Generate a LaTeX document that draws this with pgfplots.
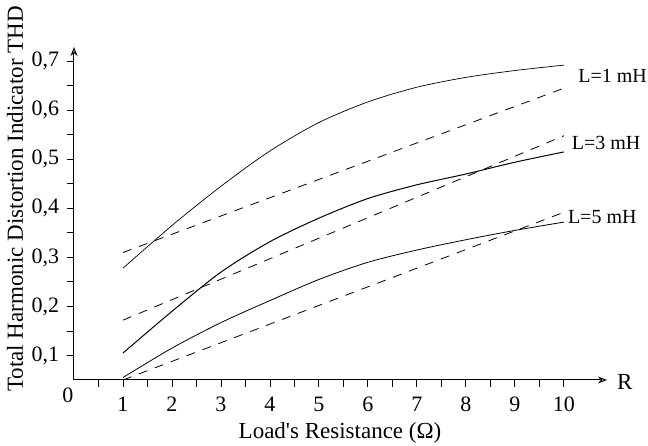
\documentclass[border=0pt]{standalone}
\usepackage{fontspec}
\setmainfont{Liberation Serif}
\usepackage{pgfplots}
\pgfplotsset{compat=1.18}
\usetikzlibrary{arrows.meta}
\begin{document}
\fontsize{23}{27}\selectfont
\begin{tikzpicture}
\path[use as bounding box] (-74pt,-66pt) rectangle (574pt,380pt);
\begin{axis}[
  at={(0,0)}, anchor=south west,
  scale only axis, width=533pt, height=333pt,
  xmin=0, xmax=10.88, ymin=0.05, ymax=0.729,
  axis x line=bottom, axis y line=left,
  axis line style={line width=1pt, -{Stealth[length=9pt,width=7pt,open]}},
  xtick={1,...,10},
  minor xtick={0.5,1.5,...,9.5},
  ytick={0.1,0.2,0.3,0.4,0.5,0.6,0.7},
  minor ytick={0.15,0.25,0.35,0.45,0.55,0.65},
  tick align=outside,
  major tick length=7pt, minor tick length=7pt,
  tick style={black, line width=0.9pt},
  every tick label/.append style={font=\fontsize{22}{26}\selectfont},
  xticklabel style={yshift=-2pt},
  /pgf/number format/assume math mode=true,
  yticklabel style={/pgf/number format/.cd, use comma, fixed, fixed zerofill, precision=1},
  xticklabel style={/pgf/number format/.cd, fixed, precision=0},
  clip=false,
]
% L=1 mH
\addplot[black, line width=0.7pt, smooth] coordinates {
(1,0.278) (2,0.365) (3,0.445) (4,0.517) (5,0.575) (6,0.617) (7,0.647) (8,0.667) (9,0.681) (10,0.692)};
\addplot[black, line width=0.8pt, dash pattern=on 9pt off 8pt] coordinates {(1,0.31) (10,0.645)};
% L=3 mH
\addplot[black, line width=1pt, smooth] coordinates {
(1,0.105) (2,0.19) (3,0.27) (4,0.332) (5,0.38) (6,0.42) (7,0.448) (8,0.47) (9,0.494) (10,0.515)};
\addplot[black, line width=0.8pt, dash pattern=on 9pt off 8pt] coordinates {(1,0.172) (10,0.548)};
% L=5 mH
\addplot[black, line width=0.8pt, smooth] coordinates {
(1,0.055) (2,0.115) (3,0.167) (4,0.212) (5,0.255) (6,0.29) (7,0.315) (8,0.336) (9,0.355) (10,0.372)};
\addplot[black, line width=0.8pt, dash pattern=on 9pt off 8pt] coordinates {(1,0.05) (10,0.392)};
\begin{scope}[every node/.style={anchor=west, inner sep=0pt, font=\fontsize{20}{24}\selectfont}]
\node at (axis cs:10.29,0.671) {L=1 mH};
\node at (axis cs:10.16,0.533) {L=3 mH};
\node at (axis cs:10.08,0.382) {L=5 mH};
\end{scope}
\node[anchor=west, inner sep=0pt] at (axis cs:11.08,0.045) {R};
\node[inner sep=0pt, font=\fontsize{22}{26}\selectfont] at (axis cs:0,0.05) [xshift=-6pt, yshift=-15pt] {0};
\node[inner sep=0pt] at (axis cs:5.43,0.05) [yshift=-53pt] {Load\textquotesingle s Resistance (Ω)};
\node[inner sep=0pt, rotate=90] at (axis cs:-1.204,0.419) {Total Harmonic Distortion Indicator THD};
\end{axis}
\end{tikzpicture}
\end{document}
